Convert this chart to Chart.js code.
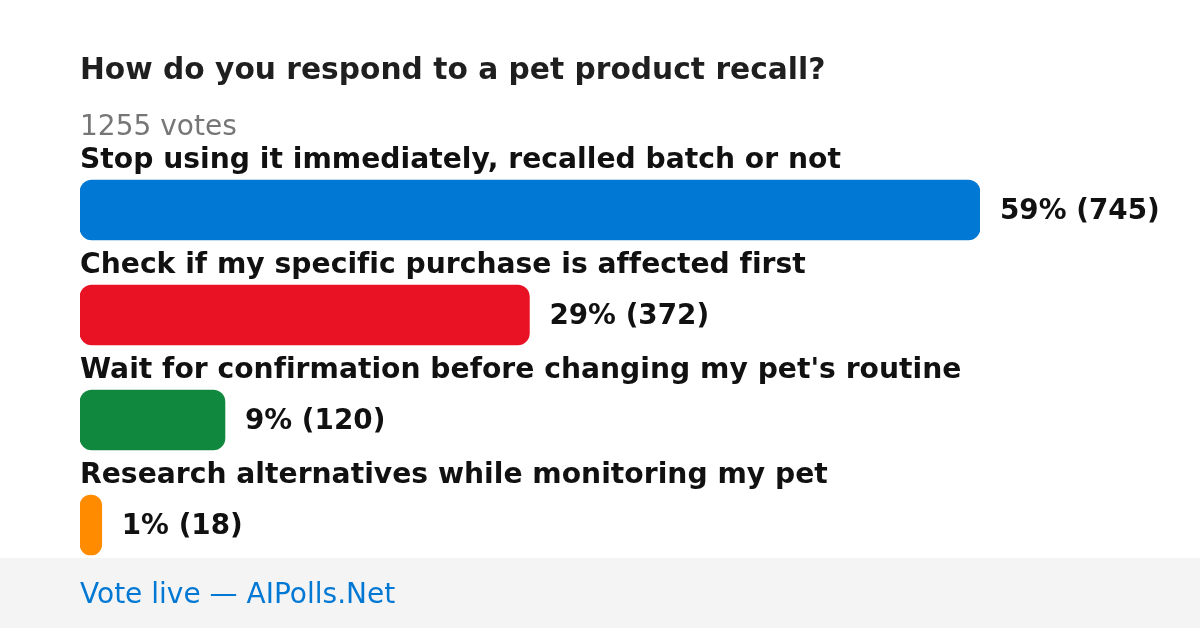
<!DOCTYPE html>
<html><head><meta charset="utf-8">
<script src="https://cdn.jsdelivr.net/npm/chart.js@4/dist/chart.umd.min.js"></script>
<style>html,body{margin:0;padding:0;background:#fff}#wrap{width:1200px;height:628px;position:relative}canvas{display:block}</style>
</head><body><div id="wrap"><canvas id="c" width="1200" height="628"></canvas></div>
<script>
const categories = [
  'Stop using it immediately, recalled batch or not',
  'Check if my specific purchase is affected first',
  "Wait for confirmation before changing my pet's routine",
  'Research alternatives while monitoring my pet'
];
const votes = [745, 372, 120, 18];
const percents = [59, 29, 9, 1];
const barColors = ['#0078d4', '#e81224', '#10893e', '#ff8c00'];
const titleText = 'How do you respond to a pet product recall?';
const totalVotes = 1255;
const footerText = 'Vote live \u2014 AIPolls.Net';

const FONT = '"DejaVu Sans", sans-serif';

function noLig(ctx) {
  if ('letterSpacing' in ctx) ctx.letterSpacing = '0.01px';
}

const decor = {
  id: 'decor',
  beforeDraw(chart) {
    const ctx = chart.ctx;
    ctx.save();
    noLig(ctx);
    ctx.fillStyle = '#ffffff';
    ctx.fillRect(0, 0, chart.width, chart.height);
    ctx.fillStyle = '#f4f4f4';
    ctx.fillRect(0, 558, chart.width, chart.height - 558);
    ctx.textAlign = 'left';
    ctx.textBaseline = 'alphabetic';
    ctx.fillStyle = '#0078d4';
    ctx.font = '28px ' + FONT;
    ctx.fillText(footerText, 80, 603);
    ctx.fillStyle = '#1f1f1f';
    ctx.font = 'bold 29.7px ' + FONT;
    ctx.fillText(titleText, 80, 79);
    ctx.fillStyle = '#767676';
    ctx.font = '28px ' + FONT;
    ctx.fillText(totalVotes + ' votes', 80, 135);
    ctx.restore();
  },
  afterDatasetsDraw(chart) {
    const ctx = chart.ctx;
    const meta = chart.getDatasetMeta(0);
    ctx.save();
    noLig(ctx);
    meta.data.forEach((bar, i) => {
      const top = bar.y - bar.height / 2;
      ctx.fillStyle = '#111111';
      ctx.textAlign = 'left';
      ctx.textBaseline = 'alphabetic';
      ctx.font = 'bold 28.2px ' + FONT;
      ctx.fillText(categories[i], chart.chartArea.left, top - 12);
      ctx.font = 'bold 27.8px ' + FONT;
      ctx.fillText(percents[i] + '% (' + votes[i] + ')', bar.x + 20, bar.y + 9);
    });
    ctx.restore();
  }
};

new Chart(document.getElementById('c'), {
  type: 'bar',
  data: {
    labels: categories,
    datasets: [{
      data: votes,
      backgroundColor: barColors,
      borderRadius: 12,
      borderSkipped: false,
      barThickness: 60
    }]
  },
  options: {
    indexAxis: 'y',
    responsive: false,
    animation: false,
    devicePixelRatio: 1,
    layout: { padding: { left: 80, right: 220, top: 157.5, bottom: 50.5 } },
    plugins: { legend: { display: false }, tooltip: { enabled: false }, title: { display: false } },
    scales: {
      x: { display: false, min: 0, max: Math.max(...votes) },
      y: { display: false }
    }
  },
  plugins: [decor]
});
</script></body></html>
